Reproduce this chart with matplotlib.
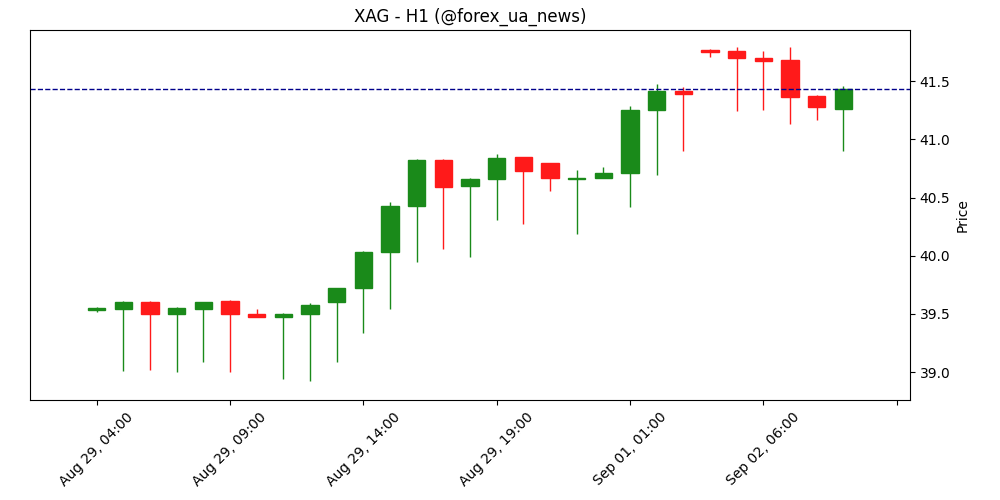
import matplotlib
matplotlib.use("Agg")
import matplotlib.pyplot as plt

opens  = [39.53,39.54,39.60,39.50,39.54,39.61,39.50,39.47,39.50,39.60,39.72,40.03,40.43,40.82,40.60,40.66,40.85,40.80,40.66,40.67,40.71,41.25,41.42,41.77,41.76,41.70,41.68,41.37,41.26]
highs  = [39.56,39.61,39.61,39.56,39.60,39.62,39.54,39.51,39.59,39.72,40.04,40.46,40.83,40.83,40.67,40.87,40.85,40.80,40.74,40.76,41.29,41.48,41.45,41.78,41.79,41.76,41.79,41.38,41.46]
lows   = [39.52,39.01,39.02,39.00,39.09,39.00,39.47,38.94,38.92,39.09,39.34,39.54,39.95,40.06,39.99,40.31,40.27,40.56,40.19,40.67,40.42,40.69,40.90,41.71,41.24,41.25,41.13,41.17,40.90]
closes = [39.55,39.60,39.50,39.55,39.60,39.50,39.47,39.50,39.58,39.72,40.03,40.43,40.82,40.59,40.66,40.84,40.73,40.67,40.67,40.71,41.25,41.42,41.39,41.75,41.70,41.67,41.36,41.28,41.43]
tick_pos = [0,5,10,15,20,25,30]
tick_labels = ["Aug 29, 04:00","Aug 29, 09:00","Aug 29, 14:00","Aug 29, 19:00","Sep 01, 01:00","Sep 02, 06:00",""]
hline = 41.43

fig, ax = plt.subplots(figsize=(10,5), dpi=100)
green, red = "#1a8a1a", "#ff1a1a"
for i,(o,h,l,c) in enumerate(zip(opens,highs,lows,closes)):
    col = green if c >= o else red
    ax.vlines(i, l, h, color=col, linewidth=1, zorder=1)
    ax.bar(i, max(abs(c-o),0.012), bottom=min(o,c), width=0.65, color=col, edgecolor=col, zorder=2)
ax.axhline(hline, color="#00008b", linestyle="--", linewidth=1)
ax.set_xlim(-2.5, 30.5)
ax.set_ylim(38.76, 41.94)
ax.set_xticks(tick_pos)
ax.set_xticklabels(tick_labels, rotation=45, ha="center")
ax.yaxis.tick_right()
ax.yaxis.set_label_position("right")
ax.set_ylabel("Price")
ax.set_title("XAG - H1 (@forex_ua_news)")
plt.subplots_adjust(left=0.03, right=0.91, top=0.94, bottom=0.2)
fig.savefig("out.png")
